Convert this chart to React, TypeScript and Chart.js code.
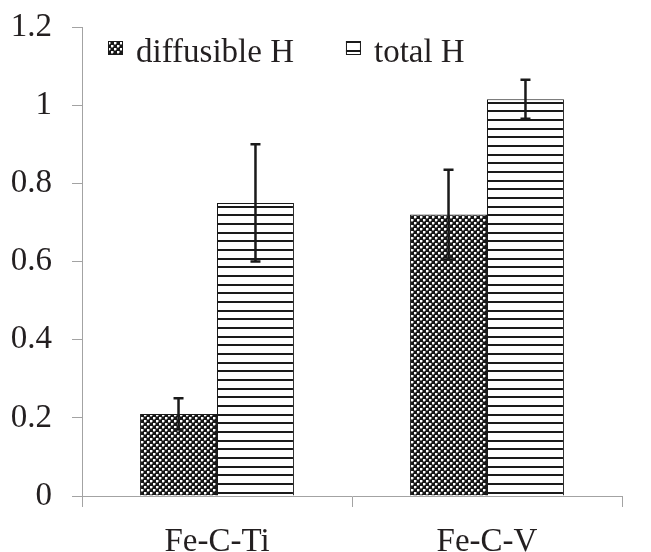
import React, { useEffect, useRef } from "react";
import { Chart, registerables } from "chart.js";

Chart.register(...registerables);

const categories = ["Fe-C-Ti", "Fe-C-V"];
const seriesNames = ["diffusible H", "total H"];
const diffusibleH = [0.21, 0.72];
const diffusibleErr = [0.04, 0.115];
const totalH = [0.75, 1.015];
const totalErr = [0.15, 0.05];
const yMin = 0;
const yMax = 1.2;
const yStep = 0.2;

const FONT = "'Liberation Serif', 'Times New Roman', serif";
const AXIS_GRAY = "#a3a3a3";
const INK = "#231f20";

function makeCheckerPattern(): CanvasPattern | string {
  const c = document.createElement("canvas");
  c.width = 6;
  c.height = 6;
  const g = c.getContext("2d");
  if (!g) return "#444";
  g.fillStyle = "#161616";
  g.fillRect(0, 0, 6, 6);
  g.fillStyle = "#7a7a7a";
  g.fillRect(0, 2, 2, 1);
  g.fillRect(2, 0, 1, 2);
  g.fillRect(3, 5, 2, 1);
  g.fillRect(5, 3, 1, 2);
  g.fillStyle = "#ffffff";
  g.fillRect(0, 0, 2, 2);
  g.fillRect(3, 3, 2, 2);
  const p = g.createPattern(c, "repeat");
  return p || "#444";
}

function makeLinePattern(): CanvasPattern | string {
  const c = document.createElement("canvas");
  c.width = 8;
  c.height = 26;
  const g = c.getContext("2d");
  if (!g) return "#fff";
  g.fillStyle = "#ffffff";
  g.fillRect(0, 0, 8, 26);
  g.fillStyle = "#1a1a1a";
  g.fillRect(0, 6, 8, 2);
  g.fillRect(0, 15, 8, 2);
  g.fillRect(0, 24, 8, 2);
  const p = g.createPattern(c, "repeat");
  return p || "#fff";
}

const errorBarsPlugin = {
  id: "errorBars",
  afterDatasetsDraw(chart: any) {
    const ctx = chart.ctx;
    const yScale = chart.scales.y;
    ctx.save();
    ctx.strokeStyle = "#1a1a1a";
    ctx.lineWidth = 2.5;
    chart.data.datasets.forEach((ds: any, di: number) => {
      const meta = chart.getDatasetMeta(di);
      if (meta.hidden) return;
      meta.data.forEach((bar: any, i: number) => {
        const v = ds.data[i];
        const e = ds.errors ? ds.errors[i] : 0;
        if (!e) return;
        const x = bar.x;
        const yTop = yScale.getPixelForValue(v + e);
        const yBot = yScale.getPixelForValue(v - e);
        const cap = 5;
        ctx.beginPath();
        ctx.moveTo(x, yTop);
        ctx.lineTo(x, yBot);
        ctx.moveTo(x - cap, yTop);
        ctx.lineTo(x + cap, yTop);
        ctx.moveTo(x - cap, yBot);
        ctx.lineTo(x + cap, yBot);
        ctx.stroke();
      });
    });
    ctx.restore();
  },
};

const legendPlugin = {
  id: "innerLegend",
  afterDraw(chart: any) {
    const ctx = chart.ctx;
    ctx.save();
    ctx.font = `33px ${FONT}`;
    ctx.textBaseline = "alphabetic";
    ctx.textAlign = "left";
    let x = 108;
    const boxTop = 41;
    const box = 15;
    const baseline = 62;
    chart.data.datasets.forEach((ds: any) => {
      ctx.fillStyle = ds.backgroundColor;
      ctx.fillRect(x, boxTop, box, box - 1);
      ctx.strokeStyle = "#1a1a1a";
      ctx.lineWidth = 1;
      ctx.strokeRect(x + 0.5, boxTop + 0.5, box - 1, box - 2);
      ctx.fillStyle = INK;
      const tx = x + box + 13;
      ctx.fillText(ds.label, tx, baseline);
      const w = ctx.measureText(ds.label).width;
      x = tx + w + 52;
    });
    ctx.restore();
  },
};

export default function App() {
  const ref = useRef<HTMLCanvasElement | null>(null);

  useEffect(() => {
    if (!ref.current) return;
    const checker = makeCheckerPattern();
    const lines = makeLinePattern();
    const chart = new Chart(ref.current, {
      type: "bar",
      data: {
        labels: categories,
        datasets: [
          {
            label: seriesNames[0],
            data: diffusibleH,
            errors: diffusibleErr,
            backgroundColor: checker,
            borderColor: "#1a1a1a",
            borderWidth: 1,
            barPercentage: 1,
            categoryPercentage: 0.57,
          } as any,
          {
            label: seriesNames[1],
            data: totalH,
            errors: totalErr,
            backgroundColor: lines,
            borderColor: "#1a1a1a",
            borderWidth: 1,
            barPercentage: 1,
            categoryPercentage: 0.57,
          } as any,
        ],
      },
      options: {
        responsive: false,
        animation: false,
        devicePixelRatio: 1,
        layout: { padding: { top: 27, right: 29, left: 0, bottom: 0 } },
        plugins: {
          legend: { display: false },
          tooltip: { enabled: false },
        },
        scales: {
          x: {
            ticks: {
              color: INK,
              padding: 16,
              font: { family: FONT, size: 33 },
            },
            grid: {
              drawOnChartArea: false,
              tickLength: 11,
              color: AXIS_GRAY,
              offset: true,
            },
            border: { color: AXIS_GRAY, width: 1 },
            afterFit: (s: any) => {
              s.height = 56;
            },
          },
          y: {
            min: yMin,
            max: yMax,
            ticks: {
              stepSize: yStep,
              color: INK,
              padding: 20,
              font: { family: FONT, size: 33 },
              callback: (v: any) => String(Math.round(Number(v) * 10) / 10),
            },
            grid: {
              drawOnChartArea: false,
              tickLength: 10,
              color: AXIS_GRAY,
            },
            border: { color: AXIS_GRAY, width: 1 },
            afterFit: (s: any) => {
              s.width = 82;
              s.paddingTop = 0;
              s.paddingBottom = 0;
            },
          },
        },
      } as any,
      plugins: [errorBarsPlugin, legendPlugin],
    });
    return () => chart.destroy();
  }, []);

  return (
    <div style={{ position: "absolute", left: 0, top: 0, width: 651, height: 552, background: "#fff" }}>
      <canvas ref={ref} width={651} height={552} style={{ display: "block" }} />
    </div>
  );
}
